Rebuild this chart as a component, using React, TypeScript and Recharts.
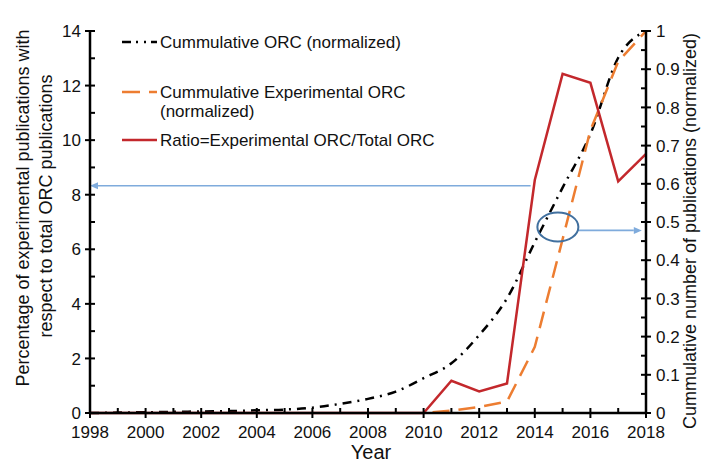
import React from 'react';
import { LineChart, Line, XAxis, YAxis, ReferenceLine, ReferenceDot, Label } from 'recharts';

const years = [1998, 1999, 2000, 2001, 2002, 2003, 2004, 2005, 2006, 2007, 2008, 2009, 2010, 2011, 2012, 2013, 2014, 2015, 2016, 2017, 2018];
const cumulativeORC = [0, 0.001, 0.002, 0.003, 0.004, 0.005, 0.007, 0.009, 0.014, 0.024, 0.037, 0.056, 0.091, 0.13, 0.204, 0.3, 0.447, 0.59, 0.73, 0.93, 1.0];
const cumulativeExperimental = [null, null, null, null, null, null, null, null, null, null, null, null, 0, 0.006, 0.016, 0.03, 0.173, 0.455, 0.74, 0.92, 1.0];
const ratioPercent = [0, 0, 0, 0, 0, 0, 0, 0, 0, 0, 0, 0, 0, 1.18, 0.79, 1.08, 8.54, 12.43, 12.1, 8.49, 9.5];

const leftTicks = [0, 1, 2, 3, 4, 5, 6, 7, 8, 9, 10, 11, 12, 13, 14];
const rightTicks = [0, 0.05, 0.1, 0.15, 0.2, 0.25, 0.3, 0.35, 0.4, 0.45, 0.5, 0.55, 0.6, 0.65, 0.7, 0.75, 0.8, 0.85, 0.9, 0.95, 1];
const rightTickLabels = ['0', '', '0.1', '', '0.2', '', '0.3', '', '0.4', '', '0.5', '', '0.6', '', '0.7', '', '0.8', '', '0.9', '', '1'];

const seriesNames = ['Cummulative ORC (normalized)', 'Cummulative Experimental ORC (normalized)', 'Ratio=Experimental ORC/Total ORC'];
const leftTitle = ['Percentage of experimental publications with', 'respect to total ORC publications'];
const rightTitle = 'Cummulative number of publications (normalized)';
const xTitle = 'Year';

// annotation anchors (data coordinates)
const leftArrow = { fromYear: 2013.85, toYear: 1998, value: 8.33 };
const rightArrow = { fromYear: 2015.55, toYear: 2017.85, value: 0.478 };
const circleMark = { year: 2014.83, value: 0.487 };

const data = years.map((y, i) => ({
  year: y,
  cum: cumulativeORC[i],
  exp: cumulativeExperimental[i],
  ratio: ratioPercent[i],
}));

const FONT = '"Liberation Sans", Arial, Helvetica, sans-serif';
const TXT = '#111';
const BLACK = '#000';
const ORANGE = '#ed7d31';
const RED = '#c3282c';
const ARROW = '#7fabdc';
const ELLIPSE = '#41709f';
const TICK_FS = 17;
const TITLE_FS = 18;

function XTick(props: any) {
  const { x, y, payload } = props;
  const major = payload.value % 2 === 0;
  return (
    <g>
      <line x1={x} x2={x} y1={y - 5} y2={major ? y + 5 : y} stroke={BLACK} strokeWidth={2} />
      {major && (
        <text x={x} y={y + 25} textAnchor="middle" fontSize={TICK_FS} fontFamily={FONT} fill={TXT}>
          {payload.value}
        </text>
      )}
    </g>
  );
}

function LeftTick(props: any) {
  const { x, y, payload } = props;
  const major = payload.value % 2 === 0;
  return (
    <g>
      <line x1={major ? x - 5 : x} x2={x + 5} y1={y} y2={y} stroke={BLACK} strokeWidth={2} />
      {major && (
        <text x={x - 9} y={y} dy="0.36em" textAnchor="end" fontSize={TICK_FS} fontFamily={FONT} fill={TXT}>
          {payload.value}
        </text>
      )}
    </g>
  );
}

function RightTick(props: any) {
  const { x, y, index } = props;
  const label = rightTickLabels[index];
  const major = label !== '';
  return (
    <g>
      <line x1={x - 5} x2={major ? x + 5 : x} y1={y} y2={y} stroke={BLACK} strokeWidth={2} />
      {major && (
        <text x={x + 10} y={y} dy="0.36em" textAnchor="start" fontSize={TICK_FS} fontFamily={FONT} fill={TXT}>
          {label}
        </text>
      )}
    </g>
  );
}

function ArrowShape(props: any) {
  const { x1, y1, x2, y2 } = props;
  const dir = x2 > x1 ? 1 : -1;
  const head = 8;
  const hw = 3.5;
  return (
    <g>
      <line x1={x1} y1={y1} x2={x2 - dir * head} y2={y2} stroke={ARROW} strokeWidth={1.6} />
      <polygon points={`${x2},${y2} ${x2 - dir * head},${y2 - hw} ${x2 - dir * head},${y2 + hw}`} fill={ARROW} />
    </g>
  );
}

function EllipseShape(props: any) {
  const { cx, cy } = props;
  return <ellipse cx={cx} cy={cy} rx={20.5} ry={14.5} fill="none" stroke={ELLIPSE} strokeWidth={2} />;
}

function Legend() {
  const sx1 = 122;
  const sx2 = 157;
  const tx = 160;
  return (
    <svg width={708} height={464} style={{ position: 'absolute', left: 0, top: 0, pointerEvents: 'none' }}>
      <line x1={sx1} x2={sx2} y1={42} y2={42} stroke={BLACK} strokeWidth={2.5} strokeDasharray="9 5 2 6 2 5" />
      <text x={tx} y={42} dy="0.36em" fontSize={17} fontFamily={FONT} fill={TXT}>{seriesNames[0]}</text>
      <line x1={sx1} x2={sx2} y1={92} y2={92} stroke={ORANGE} strokeWidth={2.5} strokeDasharray="18 9" />
      <text x={tx} y={92} dy="0.36em" fontSize={17} fontFamily={FONT} fill={TXT}>Cummulative Experimental ORC</text>
      <text x={tx} y={111} dy="0.36em" fontSize={17} fontFamily={FONT} fill={TXT}>(normalized)</text>
      <line x1={sx1} x2={sx2} y1={140} y2={140} stroke={RED} strokeWidth={2.5} />
      <text x={tx} y={140} dy="0.36em" fontSize={17} fontFamily={FONT} fill={TXT}>{seriesNames[2]}</text>
    </svg>
  );
}

export default function App() {
  return (
    <div style={{ position: 'absolute', left: 0, top: 0, width: 708, height: 464, background: '#fff' }}>
      <LineChart width={708} height={464} data={data} margin={{ top: 31, right: 0, bottom: 0, left: 0 }}>
        <XAxis
          dataKey="year"
          type="number"
          domain={[1998, 2018]}
          ticks={years}
          interval={0}
          height={51}
          tickSize={0}
          tickMargin={0}
          tickLine={false}
          axisLine={{ stroke: BLACK, strokeWidth: 2.5 }}
          tick={(p: any) => <XTick {...p} />}
        >
          <Label
            content={() => (
              <text x={371} y={452} dy="0.36em" textAnchor="middle" fontSize={20} fontFamily={FONT} fill={TXT}>
                {xTitle}
              </text>
            )}
          />
        </XAxis>
        <YAxis
          yAxisId="left"
          orientation="left"
          type="number"
          domain={[0, 14]}
          ticks={leftTicks}
          interval={0}
          width={90}
          tickSize={0}
          tickMargin={0}
          tickLine={false}
          axisLine={{ stroke: BLACK, strokeWidth: 2.5 }}
          tick={(p: any) => <LeftTick {...p} />}
        >
          <Label
            content={() => (
              <g>
                <text transform="translate(23,208) rotate(-90)" dy="0.36em" textAnchor="middle" fontSize={TITLE_FS} fontFamily={FONT} fill={TXT}>
                  {leftTitle[0]}
                </text>
                <text transform="translate(46,206) rotate(-90)" dy="0.36em" textAnchor="middle" fontSize={TITLE_FS} fontFamily={FONT} fill={TXT}>
                  {leftTitle[1]}
                </text>
              </g>
            )}
          />
        </YAxis>
        <YAxis
          yAxisId="right"
          orientation="right"
          type="number"
          domain={[0, 1]}
          ticks={rightTicks}
          interval={0}
          width={62}
          tickSize={0}
          tickMargin={0}
          tickLine={false}
          axisLine={{ stroke: BLACK, strokeWidth: 2.5 }}
          tick={(p: any) => <RightTick {...p} />}
        >
          <Label
            content={() => (
              <text transform="translate(690,231) rotate(-90)" dy="0.36em" textAnchor="middle" fontSize={TITLE_FS} fontFamily={FONT} fill={TXT}>
                {rightTitle}
              </text>
            )}
          />
        </YAxis>
        <Line
          yAxisId="right"
          dataKey="cum"
          name={seriesNames[0]}
          type="monotone"
          stroke={BLACK}
          strokeWidth={2.5}
          strokeDasharray="9 6 2 6"
          dot={false}
          isAnimationActive={false}
        />
        <Line
          yAxisId="right"
          dataKey="exp"
          name={seriesNames[1]}
          type="linear"
          stroke={ORANGE}
          strokeWidth={2.5}
          strokeDasharray="17 9"
          strokeDashoffset={17}
          dot={false}
          connectNulls={false}
          isAnimationActive={false}
        />
        <Line
          yAxisId="left"
          dataKey="ratio"
          name={seriesNames[2]}
          type="linear"
          stroke={RED}
          strokeWidth={2.5}
          dot={false}
          isAnimationActive={false}
        />
        <ReferenceLine
          yAxisId="left"
          segment={[{ x: leftArrow.fromYear, y: leftArrow.value }, { x: leftArrow.toYear, y: leftArrow.value }]}
          shape={(p: any) => <ArrowShape {...p} />}
        />
        <ReferenceLine
          yAxisId="right"
          segment={[{ x: rightArrow.fromYear, y: rightArrow.value }, { x: rightArrow.toYear, y: rightArrow.value }]}
          shape={(p: any) => <ArrowShape {...p} />}
        />
        <ReferenceDot
          yAxisId="right"
          x={circleMark.year}
          y={circleMark.value}
          shape={(p: any) => <EllipseShape {...p} />}
        />
      </LineChart>
      <Legend />
    </div>
  );
}
